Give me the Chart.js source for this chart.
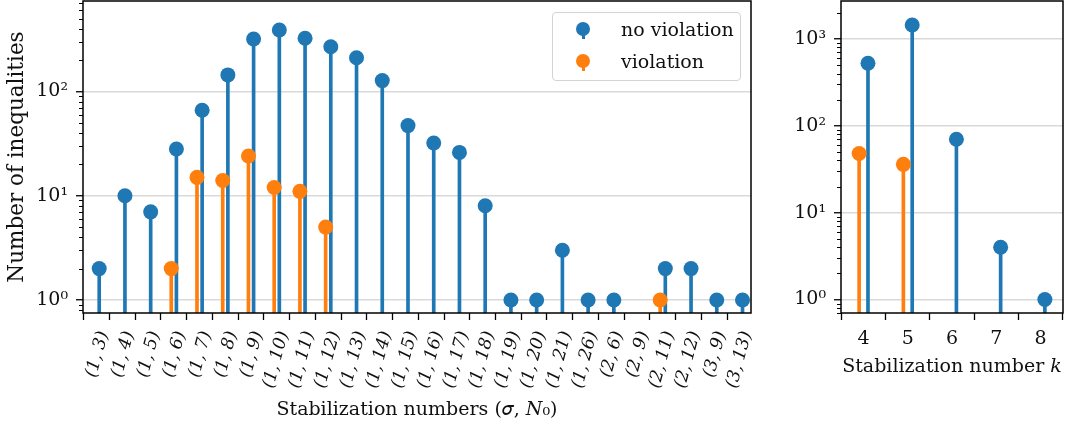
<!DOCTYPE html>
<html>
<head>
<meta charset="utf-8">
<script src="https://cdn.jsdelivr.net/npm/chart.js@4.4.1/dist/chart.umd.min.js"></script>
<style>
body { margin: 0; background: #fff; width: 1068px; height: 426px; overflow: hidden; position: relative; font-family: 'DejaVu Serif', serif; }
#left { position: absolute; left: 0; top: 0; }
#right { position: absolute; left: 760px; top: 0; }
.legend { position: absolute; left: 552px; top: 12px; width: 187px; height: 67px; border: 1.5px solid #d3d3d3; border-radius: 4px; background: rgba(255,255,255,0.85); }
.legend .row { position: absolute; left: 0; height: 24px; width: 100%; }
.legend .dot { position: absolute; left: 23px; top: 5px; width: 14px; height: 14px; border-radius: 50%; }
.legend .tail { position: absolute; left: 28.5px; top: 17px; width: 3px; height: 5px; }
.legend .txt { position: absolute; left: 68px; top: 0; font-size: 19px; line-height: 24px; color: #111; }
</style>
</head>
<body>
<canvas id="left" width="760" height="426"></canvas>
<canvas id="right" width="308" height="426"></canvas>
<div class="legend">
  <div class="row" style="top:4px"><div class="tail" style="background:#1f77b4"></div><div class="dot" style="background:#1f77b4"></div><div class="txt">no violation</div></div>
  <div class="row" style="top:36px"><div class="tail" style="background:#ff7f0e"></div><div class="dot" style="background:#ff7f0e"></div><div class="txt">violation</div></div>
</div>
<script>
const BLUE = '#1f77b4';
const ORANGE = '#ff7f0e';
const SERIF = "'DejaVu Serif', serif";

// left panel: (sigma, N0)
const pairLabels = ['(1, 3)', '(1, 4)', '(1, 5)', '(1, 6)', '(1, 7)', '(1, 8)', '(1, 9)', '(1, 10)', '(1, 11)', '(1, 12)',
    '(1, 13)', '(1, 14)', '(1, 15)', '(1, 16)', '(1, 17)', '(1, 18)', '(1, 19)', '(1, 20)', '(1, 21)', '(1, 26)',
    '(2, 6)', '(2, 9)', '(2, 11)', '(2, 12)', '(3, 9)', '(3, 13)'];
const pairNoViolation = [2, 10, 7, 28, 66, 144, 318, 388, 323, 268, 210, 127, 47, 32, 26, 8, 1, 1, 3, 1, 1, null, 2, 2, 1, 1];
const pairViolation = [null, null, null, 2, 15, 14, 24, 12, 11, 5, null, null, null, null, null, null, null, null, null, null, null, null, 1, null, null, null];

// right panel: k
const kValues = [4, 5, 6, 7, 8];
const kNoViolation = [526, 1449, 70, 4, 1];
const kViolation = [48, 36, null, null, null];

const supers = { '0': '⁰', '1': '¹', '2': '²', '3': '³' };

function toPoints(xs, values, shift) {
    const out = [];
    values.forEach((v, i) => {
        if (v !== null) out.push({ x: xs[i] + shift, y: v });
    });
    return out;
}

const frameAndMinorTicks = {
    id: 'frameAndMinorTicks',
    afterDraw(chart) {
        const { ctx, chartArea: a } = chart;
        const y = chart.scales.y;
        ctx.save();
        ctx.strokeStyle = '#000';
        ctx.lineWidth = 1;
        for (let e = -1; e <= 3; e++) {
            for (let m = 2; m <= 9; m++) {
                const v = m * Math.pow(10, e);
                if (v < y.min || v > y.max) continue;
                const py = Math.round(y.getPixelForValue(v)) + 0.5;
                ctx.beginPath();
                ctx.moveTo(a.left - 4, py);
                ctx.lineTo(a.left, py);
                ctx.stroke();
            }
        }
        ctx.lineWidth = 1.5;
        ctx.strokeRect(a.left, a.top, a.right - a.left, a.bottom - a.top);
        ctx.restore();
    }
};

function stemSets(xs, noViol, viol) {
    return [
        { type: 'bar', data: toPoints(xs, noViol, 0.1), backgroundColor: BLUE, barThickness: 3, grouped: false, order: 4 },
        { type: 'bar', data: toPoints(xs, viol, -0.1), backgroundColor: ORANGE, barThickness: 3, grouped: false, order: 3 },
        { type: 'line', data: toPoints(xs, noViol, 0.1), showLine: false, pointRadius: 7.5, pointHoverRadius: 7.5,
          pointBackgroundColor: BLUE, pointBorderWidth: 0, order: 2 },
        { type: 'line', data: toPoints(xs, viol, -0.1), showLine: false, pointRadius: 7.5, pointHoverRadius: 7.5,
          pointBackgroundColor: ORANGE, pointBorderWidth: 0, order: 1 }
    ];
}

function makeChart(canvasId, opts) {
    const ctx = document.getElementById(canvasId).getContext('2d');
    return new Chart(ctx, {
        type: 'bar',
        data: { datasets: stemSets(opts.xs, opts.noViol, opts.viol) },
        options: {
            responsive: false,
            animation: false,
            events: [],
            layout: { autoPadding: false, padding: { top: 1, right: opts.padRight, left: 0, bottom: 0 } },
            plugins: { legend: { display: false }, tooltip: { enabled: false } },
            scales: {
                x: {
                    type: 'linear',
                    min: opts.xMin,
                    max: opts.xMax,
                    offset: false,
                    afterBuildTicks: (scale) => { scale.ticks = opts.xs.map(v => ({ value: v })); },
                    afterFit: (scale) => {
                        scale.height = 113;
                        scale.paddingLeft = 0;
                        scale.paddingRight = 0;
                    },
                    grid: { drawOnChartArea: false, drawTicks: true, tickLength: 7, tickColor: '#000', tickWidth: 1.3 },
                    border: { display: false },
                    ticks: {
                        autoSkip: false,
                        minRotation: opts.rotation,
                        maxRotation: opts.rotation,
                        padding: opts.tickPad,
                        labelOffset: opts.labelOffset,
                        color: '#111',
                        font: { family: SERIF, size: opts.tickSize, style: opts.italic ? 'italic' : 'normal' },
                        callback: (value, index) => opts.tickLabels[index]
                    },
                    title: {
                        display: true,
                        text: opts.xTitle,
                        color: '#111',
                        font: { family: SERIF, size: 19 },
                        padding: { top: 0, bottom: opts.xTitlePad }
                    }
                },
                y: {
                    type: 'logarithmic',
                    min: opts.yMin,
                    max: opts.yMax,
                    afterBuildTicks: (scale) => { scale.ticks = opts.yTicks.map(v => ({ value: v })); },
                    afterFit: (scale) => {
                        scale.width = opts.yWidth;
                        scale.paddingTop = 0;
                        scale.paddingBottom = 0;
                    },
                    grid: { color: '#d9d9d9', lineWidth: 1.5, drawTicks: true, tickLength: 7, tickColor: '#000', tickWidth: 1.3 },
                    border: { display: false },
                    ticks: {
                        padding: 8,
                        color: '#111',
                        font: { family: SERIF, size: 19 },
                        callback: (value) => '10' + supers[String(Math.round(Math.log10(value)))]
                    },
                    title: {
                        display: !!opts.yTitle,
                        text: opts.yTitle,
                        color: '#111',
                        font: { family: SERIF, size: 21.5 },
                        padding: { top: 5, bottom: 0 }
                    }
                }
            }
        },
        plugins: [frameAndMinorTicks]
    });
}

makeChart('left', {
    xs: pairLabels.map((_, i) => i),
    tickLabels: pairLabels,
    noViol: pairNoViolation,
    viol: pairViolation,
    xMin: -0.53, xMax: 25.43,
    yMin: 0.75, yMax: 736,
    yTicks: [1, 10, 100],
    yWidth: 83,
    padRight: 9,
    rotation: 75,
    italic: true,
    tickSize: 17.5,
    tickPad: 9,
    labelOffset: 7,
    xTitle: 'Stabilization numbers (𝜎, 𝑁₀)',
    xTitlePad: 5,
    yTitle: 'Number of inequalities'
});

makeChart('right', {
    xs: kValues,
    tickLabels: kValues.map(String),
    noViol: kNoViolation,
    viol: kViolation,
    xMin: 3.49, xMax: 8.51,
    yMin: 0.703, yMax: 2735,
    yTicks: [1, 10, 100, 1000],
    yWidth: 81,
    padRight: 5,
    rotation: 0,
    italic: false,
    tickSize: 19,
    tickPad: 8,
    labelOffset: 0,
    xTitle: 'Stabilization number 𝑘',
    xTitlePad: 48,
    yTitle: ''
});
</script>
</body>
</html>
